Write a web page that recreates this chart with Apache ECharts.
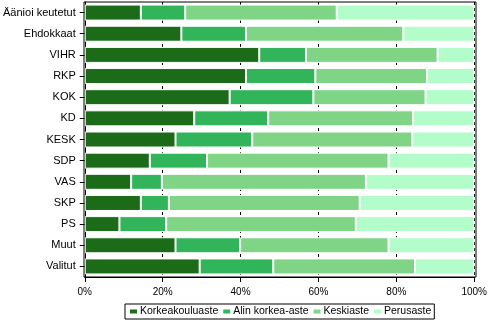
<!DOCTYPE html>
<html><head><meta charset="utf-8">
<script src="https://cdn.jsdelivr.net/npm/echarts@6/dist/echarts.min.js"></script>
<style>html,body{margin:0;padding:0;background:#fff}#c{width:490px;height:331px}</style>
</head><body><div id="c"></div>
<script>
var categories = ["Äänioi keutetut","Ehdokkaat","VIHR","RKP","KOK","KD","KESK","SDP","VAS","SKP","PS","Muut","Valitut"];
var seriesNames = ["Korkeakouluaste","Alin korkea-aste","Keskiaste","Perusaste"];
var korkeakouluaste = [14.4,24.8,44.8,41.4,37.2,28.1,23.3,16.7,11.9,14.4,8.9,23.3,29.5];
var alinKorkea =      [11.4,16.6,12.0,17.8,21.5,19.0,19.7,14.7,7.9,7.2,12.0,16.6,18.9];
var keskiaste =       [38.9,40.4,33.8,28.7,28.8,37.2,41.1,46.6,52.4,49.0,48.7,38.1,36.4];
var perusaste =       [35.3,18.2,9.4,12.1,12.5,15.7,15.9,22.0,27.8,29.4,30.4,22.0,15.2];
var xTicks = [0,20,40,60,80,100];
var colors = ["#1b6b19","#32b45a","#7fd486","#b2fdc9"];
var values = [korkeakouluaste, alinKorkea, keskiaste, perusaste];
var font = "Liberation Sans";
var chart = echarts.init(document.getElementById('c'), null, {renderer:'canvas'});
chart.setOption({
  animation:false,
  textStyle:{fontFamily:font},
  grid:{left:84,right:14,top:2,bottom:54,containLabel:false},
  legend:{
    top:304,left:125,
    itemWidth:9,itemHeight:6,itemGap:3,
    borderColor:'#000',borderWidth:1,padding:[2,3,2,3],
    textStyle:{fontSize:10.5,color:'#000',fontFamily:font,padding:[0,0,0,-3]},
    icon:'rect',
    data:seriesNames
  },
  xAxis:{
    type:'value',min:0,max:100,interval:20,
    axisLine:{show:true,lineStyle:{color:'#000',width:1}},
    axisTick:{show:true,length:5,lineStyle:{color:'#000'}},
    axisLabel:{formatter:function(v){return v+'%';},fontSize:10,color:'#000',margin:10},
    splitLine:{show:true,lineStyle:{color:'#000',type:[3,3],width:1}}
  },
  yAxis:{
    type:'category',data:categories,inverse:true,
    axisLine:{show:true,lineStyle:{color:'#000'}},
    axisTick:{show:true,alignWithLabel:true,length:5,lineStyle:{color:'#000'}},
    axisLabel:{fontSize:11,color:'#000',margin:9}
  },
  graphic:[{type:'rect',shape:{x:84,y:2,width:392,height:275},style:{fill:null,stroke:'#000',lineWidth:1},z:100,silent:true}],
  series: seriesNames.map(function(n,i){
    return {name:n,type:'bar',stack:'s',data:values[i],barWidth:16,
      itemStyle:{color:colors[i],borderColor:'#fff',borderWidth:1}};
  })
});
</script></body></html>
